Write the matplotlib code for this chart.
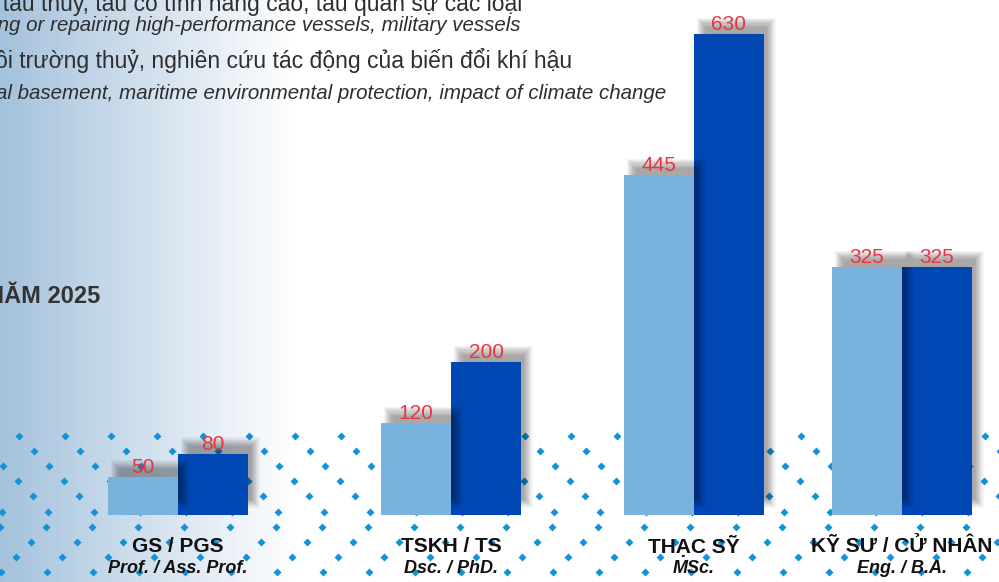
import numpy as np
import matplotlib
matplotlib.use("Agg")
import matplotlib.pyplot as plt
from matplotlib.patches import Rectangle

# ---------------- data ----------------
categories = ["GS / PGS", "TSKH / TS", "THẠC SỸ", "KỸ SƯ / CỬ NHÂN"]
categories_en = ["Prof. / Ass. Prof.", "Dsc. / PhD.", "MSc.", "Eng. / B.A."]
series_light = [50, 120, 445, 325]
series_dark = [80, 200, 630, 325]

header_lines = [
    "chữa tàu thủy, tàu có tính năng cao, tàu quân sự các loại",
    "building or repairing high-performance vessels, military vessels",
    "môi trường thuỷ, nghiên cứu tác động của biến đổi khí hậu",
    "naval basement, maritime environmental protection, impact of climate change",
]
year_title = "NĂM 2025"

# ---------------- layout / style ----------------
W, H = 999, 582
BASE = 515                      # pixel row of the bar baseline
YMAX = 675                      # value at the top edge of the figure
group_x = np.array([178, 451, 694, 902])
BAR_W = 70
LIGHT = "#7ab2de"
DARK = "#0047b3"
RED = "#e8353f"
DOT = "#1592d6"
TXT = "#2e2e2e"
FONT = ["Liberation Sans", "DejaVu Sans"]

fig = plt.figure(figsize=(W / 100, H / 100), dpi=100)

# background axes in pixel coordinates
bg = fig.add_axes([0, 0, 1, 1])
bg.set_xlim(0, W)
bg.set_ylim(H, 0)
bg.axis("off")

xs = np.arange(W)
t = np.clip(xs / 295.0, 0, 1)
left = np.array([164, 194, 220]) / 255.0
grad = left[None, :] * (1 - t[:, None]) + t[:, None]
img = np.tile(grad[None, :, :], (2, 1, 1))
bg.imshow(img, extent=[0, W, H, 0], aspect="auto", zorder=0, interpolation="bilinear")

# decorative diamond dot pattern
row_y0, row_dy, col_dx = 435.5, 15.2, 46.0
row_offsets = [19, 34.3, 49.3, 64.3, 79.3, 94.3, 92.3, 77.0, 61.7, 46.7]
for i, off in enumerate(row_offsets):
    y = row_y0 + i * row_dy
    xd = np.arange(off % col_dx - col_dx, W + col_dx, col_dx)
    bg.plot(xd, np.full_like(xd, y), linestyle="none", marker="D", ms=3.6,
            color=DOT, mec="none", zorder=1)

# header texts
bg.text(522, 11, header_lines[0], ha="right", va="baseline", fontsize=16.5,
        family=FONT, color=TXT, zorder=3)
bg.text(520, 31, header_lines[1], ha="right", va="baseline", fontsize=14.8,
        family=FONT, style="italic", color=TXT, zorder=3)
bg.text(572, 68, header_lines[2], ha="right", va="baseline", fontsize=16.5,
        family=FONT, color=TXT, zorder=3)
bg.text(666, 99, header_lines[3], ha="right", va="baseline", fontsize=14.8,
        family=FONT, style="italic", color=TXT, zorder=3)
bg.text(100, 303, year_title, ha="right", va="baseline", fontsize=17,
        family=FONT, weight="bold", color="#333333", zorder=3)

# category labels
for xc, c, ce in zip(group_x, categories, categories_en):
    bg.text(xc, 552, c, ha="center", va="baseline", fontsize=15, weight="bold",
            family=FONT, color="#111111", zorder=3)
    bg.text(xc, 573, ce, ha="center", va="baseline", fontsize=13, weight="bold",
            style="italic", family=FONT, color="#111111", zorder=3)

# bar axes: x in pixels, y in values
ax = fig.add_axes([0, (H - BASE) / H, 1, BASE / H])
ax.set_xlim(0, W)
ax.set_ylim(0, YMAX)
ax.axis("off")
ax.patch.set_alpha(0)
ppu = BASE / YMAX  # pixels per value unit


def add_shadow(rect, z):
    dx, dy, r, n, a = 7, 12, 4.5, 9, 0.045
    x0, w, h = rect.get_x(), rect.get_width(), rect.get_height()
    for k in range(n):
        e = -r + 2 * r * k / (n - 1)
        ax.add_patch(Rectangle((x0 + dx - e, (dy - e) / ppu), w + 2 * e,
                               h + 2 * e / ppu, facecolor="black", alpha=a,
                               edgecolor="none", zorder=z))


bars_dark = ax.bar(group_x + BAR_W / 2, series_dark, width=BAR_W, color=DARK,
                   zorder=3, linewidth=0)
bars_light = ax.bar(group_x - BAR_W / 2, series_light, width=BAR_W, color=LIGHT,
                    zorder=5, linewidth=0)
for rect in bars_dark:
    add_shadow(rect, 2)
for rect in bars_light:
    add_shadow(rect, 4)

for bars, vals in ((bars_light, series_light), (bars_dark, series_dark)):
    for rect, v in zip(bars, vals):
        ax.annotate(f"{v}", (rect.get_x() + rect.get_width() / 2, v),
                    xytext=(0, 3), textcoords="offset points", ha="center",
                    va="baseline", color=RED, fontsize=15, family=FONT, zorder=10)

fig.savefig("out.png", dpi=100)
